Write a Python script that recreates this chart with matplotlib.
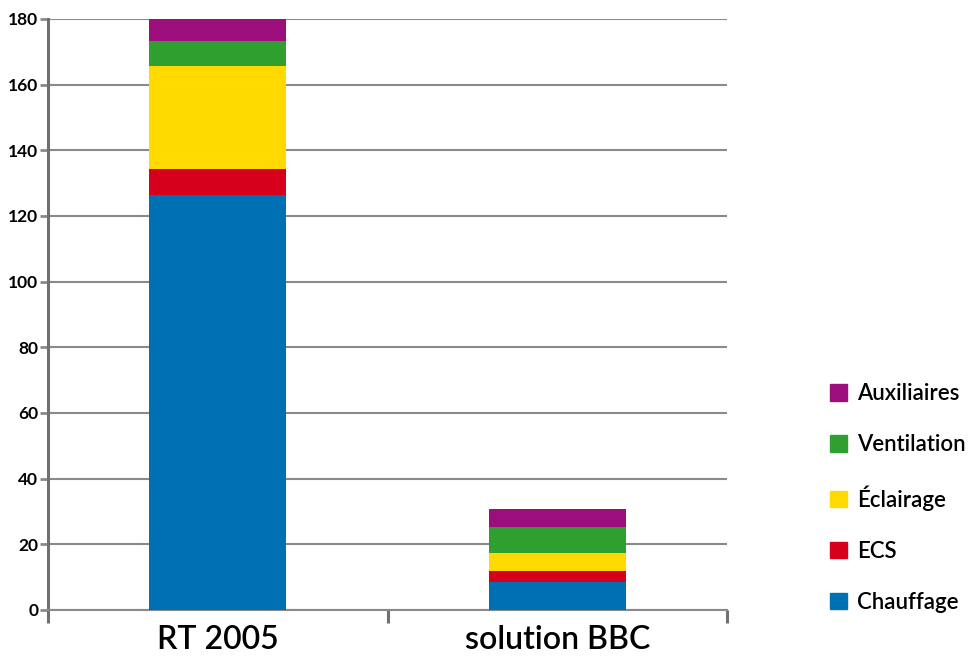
import matplotlib
matplotlib.use("Agg")
import matplotlib.pyplot as plt
from matplotlib.patches import Patch
import numpy as np

categories = ["RT 2005", "solution BBC"]
series_names = ["Chauffage", "ECS", "Éclairage", "Ventilation", "Auxiliaires"]
chauffage = [126.4, 8.5]
ecs = [7.9, 3.4]
eclairage = [31.3, 5.5]
ventilation = [7.7, 7.9]
auxiliaires = [6.7, 5.5]
yticks = [0, 20, 40, 60, 80, 100, 120, 140, 160, 180]

colors = ["#0070B4", "#D6001C", "#FFD900", "#2FA02F", "#9B0E7B"]
series = [chauffage, ecs, eclairage, ventilation, auxiliaires]

plt.rcParams['font.family'] = ['Lato', 'DejaVu Sans']

fig = plt.figure(figsize=(9.68, 6.59), dpi=100)
ax = fig.add_axes([48/968, 1 - 610/659, (727-48)/968, (610-19)/659])

x = np.arange(len(categories))
bottom = np.zeros(len(categories))
for vals, c, name in zip(series, colors, series_names):
    ax.bar(x, vals, bottom=bottom, width=0.405, color=c, label=name, zorder=3)
    bottom += np.array(vals)

ax.set_xlim(-0.5, 1.5)
ax.set_ylim(0, 180)
ax.set_yticks(yticks)
ax.set_yticklabels([str(v) for v in yticks], fontsize=12.5, fontweight='bold')
ax.tick_params(axis='y', direction='out', length=6, width=2, color='#8a8a8a', pad=1)

ax.set_xticks(x)
ax.set_xticklabels(categories, fontsize=23, fontweight='semibold')
ax.tick_params(axis='x', which='major', length=0, pad=11)
ax.set_xticks([-0.5, 0.5, 1.5], minor=True)
ax.tick_params(axis='x', which='minor', direction='out', length=9, width=2.2, color='#707070')

ax.yaxis.grid(True, color='#8a8a8a', linewidth=1.5, zorder=0)
ax.set_axisbelow(True)
for s in ['top', 'right']:
    ax.spines[s].set_visible(False)
ax.spines['bottom'].set_color('#8a8a8a')
ax.spines['bottom'].set_linewidth(1.5)
ax.spines['left'].set_color('#707070')
ax.spines['left'].set_linewidth(2.2)

handles = [Patch(color=c, label=n) for c, n in zip(colors, series_names)][::-1]
fig.legend(handles=handles, loc='center left', bbox_to_anchor=(819/968, 1 - 498/659),
           frameon=False, prop={'size': 16, 'weight': 'semibold'},
           handlelength=0.75, handleheight=0.75,
           handletextpad=0.45, labelspacing=1.35, borderpad=0)

fig.savefig("out.png", dpi=100)
